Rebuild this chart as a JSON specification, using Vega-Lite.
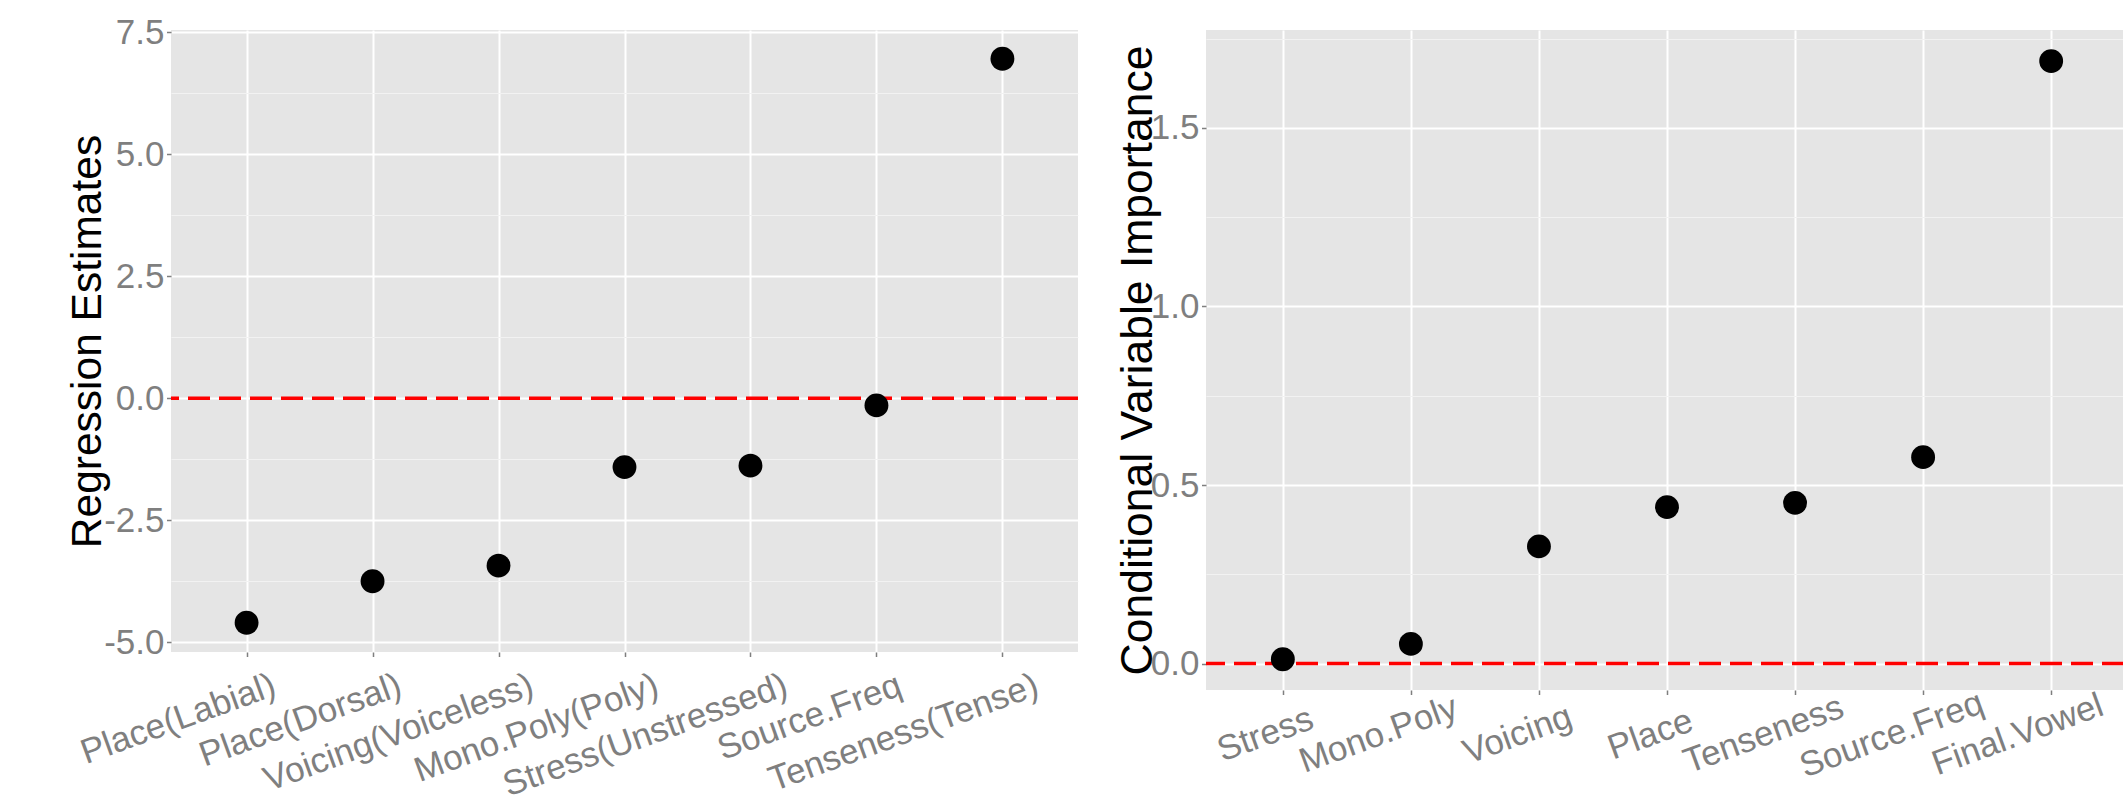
{
  "$schema": "https://vega.github.io/schema/vega-lite/v6.json",
  "padding": {"left": 66, "top": 15, "right": 0, "bottom": 0},
  "background": "#FFFFFF",
  "bounds": "flush",
  "spacing": 128,
  "config": {
    "view": {"fill": "#E5E5E5", "stroke": null},
    "font": "Liberation Sans",
    "axis": {
      "domain": false,
      "labelFont": "Liberation Sans",
      "titleFont": "Liberation Sans",
      "labelColor": "#7F7F7F",
      "labelFontSize": 35,
      "labelLimit": 0,
      "titleLimit": 0,
      "tickColor": "#7F7F7F",
      "tickSize": 4.5,
      "tickWidth": 1.5,
      "gridColor": "#FFFFFF",
      "gridWidth": 2,
      "titleColor": "#000000",
      "titleFontWeight": "normal",
      "minExtent": 0
    }
  },
  "hconcat": [
    {
      "width": 907,
      "height": 622,
      "data": {"values": [
        {"term": "Place(Labial)", "estimate": -4.60},
        {"term": "Place(Dorsal)", "estimate": -3.75},
        {"term": "Voicing(Voiceless)", "estimate": -3.43},
        {"term": "Mono.Poly(Poly)", "estimate": -1.41},
        {"term": "Stress(Unstressed)", "estimate": -1.38},
        {"term": "Source.Freq", "estimate": -0.145},
        {"term": "Tenseness(Tense)", "estimate": 6.96}
      ]},
      "layer": [
        {
          "data": {"values": [{"ref": 0}]},
          "mark": {"type": "rule", "color": "#FF0000", "strokeWidth": 3.6, "strokeDash": [22, 9]},
          "encoding": {
            "y": {"field": "ref", "type": "quantitative",
              "axis": {"orient": "right", "title": null, "labels": false, "ticks": false, "domain": false, "grid": true, "gridColor": "#F2F2F2", "gridWidth": 1, "values": [-3.75, -1.25, 1.25, 3.75, 6.25], "minExtent": 0, "maxExtent": 0}}
          }
        },
        {
          "mark": {"type": "point", "filled": true, "size": 570, "color": "#000000", "opacity": 1},
          "encoding": {
            "x": {"field": "term", "type": "nominal",
              "scale": {"type": "point", "padding": 0.6, "domain": ["Place(Labial)", "Place(Dorsal)", "Voicing(Voiceless)", "Mono.Poly(Poly)", "Stress(Unstressed)", "Source.Freq", "Tenseness(Tense)"]},
              "axis": {"title": null, "labelAngle": -20, "labelAlign": "right", "labelBaseline": "middle",
                "labelOffset": {"condition": [
                  {"test": "datum.value == 'Place(Labial)'", "value": 27},
                  {"test": "datum.value == 'Place(Dorsal)'", "value": 27},
                  {"test": "datum.value == 'Voicing(Voiceless)'", "value": 33},
                  {"test": "datum.value == 'Mono.Poly(Poly)'", "value": 32},
                  {"test": "datum.value == 'Stress(Unstressed)'", "value": 35},
                  {"test": "datum.value == 'Source.Freq'", "value": 23}
                ], "value": 34},
                "labelPadding": 27, "grid": true, "labelOverlap": false, "labelLimit": 0}},
            "y": {"field": "estimate", "type": "quantitative",
              "scale": {"domain": [-5.2, 7.55], "nice": false, "zero": false},
              "axis": {"orient": "left", "title": "Regression Estimates", "titleFontSize": 42.5, "titlePadding": -6, "values": [-5, -2.5, 0, 2.5, 5, 7.5], "labelExpr": "replace(format(datum.value, '.1f'), '−', '-')", "labelPadding": 2.5, "labelDy": 3, "grid": true}}
          }
        }
      ],
      "resolve": {"axis": {"y": "independent"}}
    },
    {
      "width": 918,
      "height": 660,
      "data": {"values": [
        {"variable": "Stress", "importance": 0.012},
        {"variable": "Mono.Poly", "importance": 0.055},
        {"variable": "Voicing", "importance": 0.328},
        {"variable": "Place", "importance": 0.438},
        {"variable": "Tenseness", "importance": 0.45},
        {"variable": "Source.Freq", "importance": 0.578},
        {"variable": "Final.Vowel", "importance": 1.687}
      ]},
      "layer": [
        {
          "data": {"values": [{"ref": 0}]},
          "mark": {"type": "rule", "color": "#FF0000", "strokeWidth": 3.6, "strokeDash": [22, 9]},
          "encoding": {
            "y": {"field": "ref", "type": "quantitative",
              "axis": {"orient": "right", "title": null, "labels": false, "ticks": false, "domain": false, "grid": true, "gridColor": "#F2F2F2", "gridWidth": 1, "values": [0.25, 0.75, 1.25, 1.75], "minExtent": 0, "maxExtent": 0}}
          }
        },
        {
          "mark": {"type": "point", "filled": true, "size": 570, "color": "#000000", "opacity": 1},
          "encoding": {
            "x": {"field": "variable", "type": "nominal",
              "scale": {"type": "point", "padding": 0.6, "range": [0, 922], "domain": ["Stress", "Mono.Poly", "Voicing", "Place", "Tenseness", "Source.Freq", "Final.Vowel"]},
              "axis": {"title": null, "labelAngle": -20, "labelAlign": "center", "labelBaseline": "middle",
                "labelOffset": {"condition": [
                  {"test": "datum.value == 'Stress'", "value": -18},
                  {"test": "datum.value == 'Mono.Poly'", "value": -33},
                  {"test": "datum.value == 'Voicing'", "value": -22},
                  {"test": "datum.value == 'Place'", "value": -17},
                  {"test": "datum.value == 'Tenseness'", "value": -32},
                  {"test": "datum.value == 'Source.Freq'", "value": -32}
                ], "value": -34},
                "labelPadding": 39.5, "grid": true, "labelOverlap": false, "labelLimit": 0}},
            "y": {"field": "importance", "type": "quantitative",
              "scale": {"domain": [-0.074, 1.774], "nice": false, "zero": false},
              "axis": {"orient": "left", "title": "Conditional Variable Importance", "titleFontSize": 44.5, "titlePadding": -10, "values": [0, 0.5, 1, 1.5], "format": ".1f", "labelPadding": 2.5, "labelDy": 3, "grid": true}}
          }
        }
      ],
      "resolve": {"axis": {"y": "independent"}}
    }
  ]
}
